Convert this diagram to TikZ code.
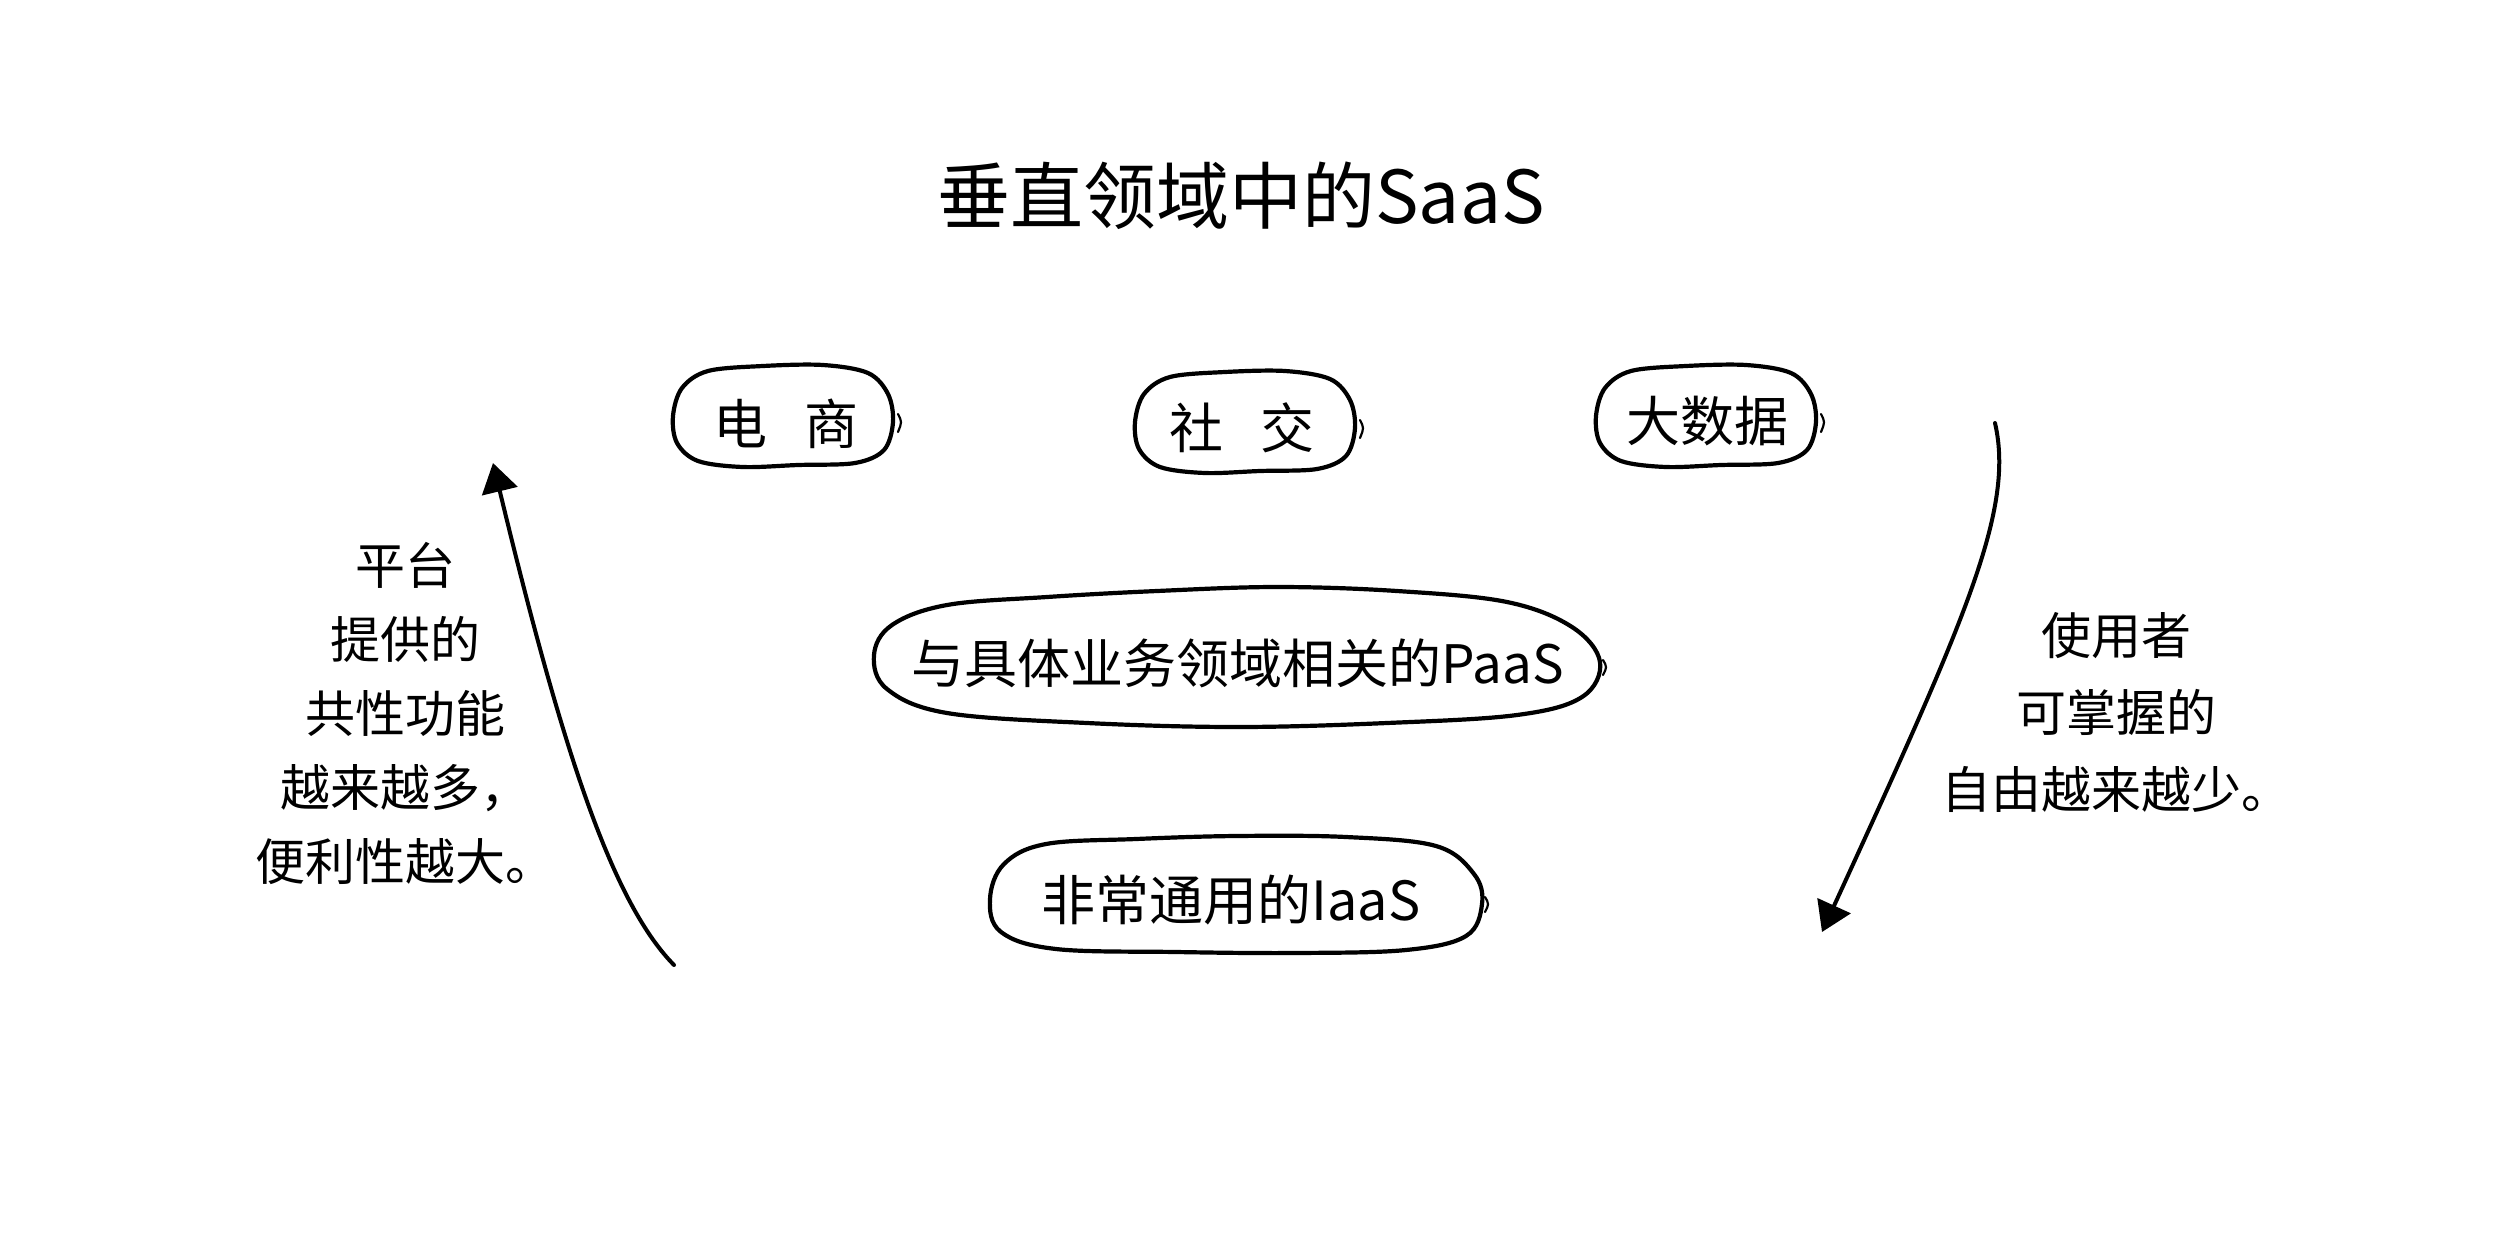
\documentclass[tikz,border=0pt]{standalone}
\usepackage{fontspec}
\setmainfont{Noto Sans CJK SC}
\usetikzlibrary{arrows.meta}
\begin{document}
\begin{tikzpicture}[x=1pt,y=-1pt,
  sketch/.style={line width=4.2pt, line join=round, line cap=round},
  tickmark/.style={line width=2.2pt, line cap=round},
  lbl/.style={font=\fontsize{54}{60}\selectfont, inner sep=0pt},
  note/.style={font=\fontsize{50}{75}\selectfont, align=center, inner sep=0pt},
  arrowline/.style={line width=4pt, line cap=round, -{Triangle[length=29pt,width=36pt]}}]
\useasboundingbox (0,0) rectangle (2504,1248);
\fill[white] (0,0) rectangle (2504,1248);

% title
\node[font=\fontsize{73}{80}\selectfont, inner sep=0pt] (title) at (1241,196) {垂直领域中的SaaS};

% top boxes
\coordinate (b1) at (783,416);
\coordinate (b2) at (1245,422);
\coordinate (b3) at (1706,416);
\foreach \c in {b1,b2,b3}{
  \begin{scope}[shift={(\c)}]
    \draw[sketch] plot[smooth cycle, tension=0.55] coordinates {(-75,-45) (-20,-50) (40,-51) (85,-43) (105,-22) (110,6) (101,34) (72,47) (15,49) (-40,51) (-85,45) (-106,27) (-110,0) (-101,-28)};
    \draw[tickmark] (115,-2) .. controls (119,6) .. (115,16);
  \end{scope}
}
\node[lbl] (ds) at (786,424) {电\hspace{0.7em}商};
\node[lbl] (sj) at (1242,428) {社\hspace{0.7em}交};
\node[lbl] (dsj) at (1707,421) {大数据};

% PaaS box
\node[font=\fontsize{53}{60}\selectfont, inner sep=0pt] (paas) at (1238,663) {与具体业务领域相关的PaaS};
\begin{scope}[shift={(1237,657)}]
  \draw[sketch] plot[smooth cycle, tension=0.6] coordinates {(-290,-52) (-190,-60) (-80,-66) (40,-70) (160,-66) (270,-55) (335,-30) (363,5) (345,40) (280,58) (150,66) (0,70) (-150,66) (-290,56) (-350,32) (-363,-2) (-345,-32)};
  \draw[tickmark] (366,3) .. controls (370,10) .. (366,18);
\end{scope}

% IaaS box
\node[lbl] (iaas) at (1231,900) {非常通用的IaaS};
\begin{scope}[shift={(1236,894)}]
  \draw[sketch] plot[smooth cycle, tension=0.6] coordinates {(-190,-50) (-100,-55) (0,-58) (110,-57) (200,-48) (238,-20) (246,10) (230,42) (170,56) (60,59) (-60,58) (-180,55) (-235,38) (-246,5) (-232,-30)};
  \draw[tickmark] (249,3) .. controls (253,10) .. (249,18);
\end{scope}

% side notes
\node[note, font=\fontsize{50}{74}\selectfont] (left) at (405,713) {平台\\提供的\\共性功能\\越来越多，\\便利性越大。};
\node[note, font=\fontsize{50}{77}\selectfont] (right) at (2116,712) {使用者\\可掌握的\\自由越来越少。};

% arrows
\coordinate (la) at (674,965);
\coordinate (lb) at (493,463);
\draw[arrowline] (la) .. controls (610,900) and (560,740) .. (lb);
\coordinate (ra) at (1995,423);
\coordinate (rb) at (1822,932);
\draw[arrowline] (ra) .. controls (2015,510) and (1965,620) .. (rb);
\end{tikzpicture}
\end{document}
